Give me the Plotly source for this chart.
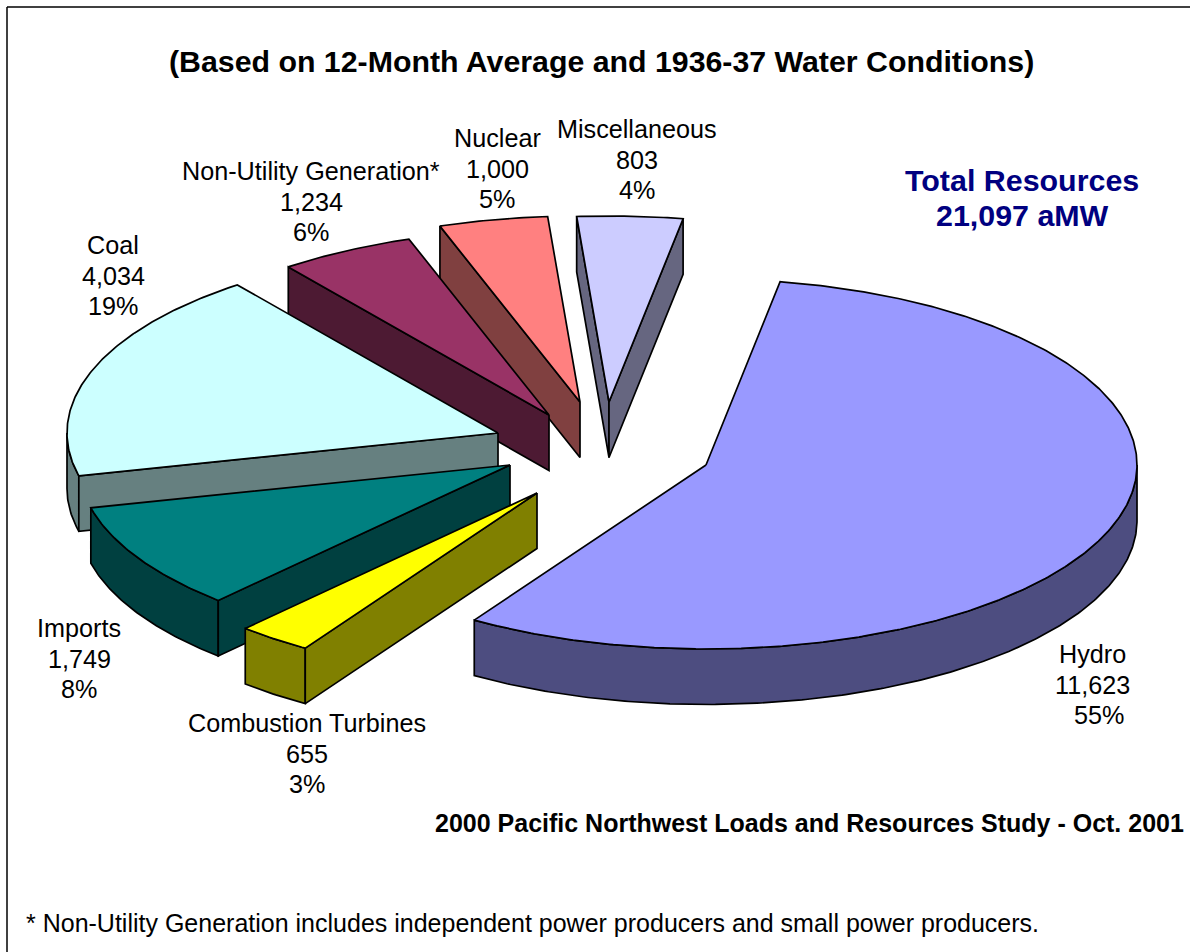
import numpy as np
import plotly.graph_objects as go

# ---- data ----
categories = ["Hydro", "Combustion Turbines", "Imports", "Coal",
              "Non-Utility Generation*", "Nuclear", "Miscellaneous"]
values = [11623, 655, 1749, 4034, 1234, 1000, 803]
total_label = "21,097"

# ---- styling / view of the exploded 3-D pie ----
top_colors = ["#9999FF", "#FFFF00", "#008080", "#CCFFFF", "#993366", "#FF8080", "#CCCCFF"]
side_colors = ["#4D4D80", "#808000", "#004040", "#668080", "#4D1A33", "#804040", "#666680"]
apex_x = [706, 537, 510, 498, 549, 580, 609]
apex_y = [465, 493, 465, 433, 415, 402, 402]
label_x = [1092, 307, 79, 113, 311, 497, 637]
label_y = [654, 723, 628, 245, 171, 138, 129]
draw_order = [6, 5, 4, 3, 2, 1, 0]
start_angle = 9.9
view_warp = [0, 4.3, 3.2, 7.3, 4.7, 1.9, -0.5, 0]  # foreshortening of slice boundaries, degrees
RX, RY_BACK, RY_FRONT, DEPTH = 431, 186, 184, 55.5
LINE = dict(color="black", width=1.7)
FONT = "Liberation Sans, Arial, sans-serif"

shares = np.array(values) / sum(values) * 360
bounds = start_angle + np.concatenate([[0], np.cumsum(shares)]) + np.array(view_warp)


def poly(x, y, color, name):
    return go.Scatter(x=list(x) + [x[0]], y=list(y) + [y[0]], mode="lines", fill="toself",
                      fillcolor=color, line=LINE, name=name, hoverinfo="name", showlegend=False)


def arc(cx, cy, deg):
    t = np.radians(deg)
    c = np.cos(t)
    return cx + RX * np.sin(t), cy - np.where(c > 0, RY_BACK, RY_FRONT) * c


fig = go.Figure()
for i in draw_order:
    cx, cy = apex_x[i], apex_y[i]
    a0, a1 = bounds[i], bounds[i + 1]
    ax, ay = arc(cx, cy, np.linspace(a0, a1, max(int(a1 - a0) * 2, 8)))
    mx, my = arc(cx, cy, np.array([(a0 + a1) / 2]))
    name = categories[i]
    # outer wall: only the part of the rim that faces the viewer
    lo, hi = max(a0, 90), min(a1, 270)
    if hi > lo:
        wx, wy = arc(cx, cy, np.linspace(lo, hi, max(int(hi - lo) * 2, 4)))
        fig.add_trace(poly(np.r_[wx, wx[::-1]], np.r_[wy, wy[::-1] + DEPTH], side_colors[i], name))
    # cut walls: only those whose outside faces down the picture
    for k in (0, -1):
        ex, ey = ax[k] - cx, ay[k] - cy
        if (ex * (my[0] - cy) - ey * (mx[0] - cx)) * ex < 0:
            fig.add_trace(poly([cx, ax[k], ax[k], cx], [cy, ay[k], ay[k] + DEPTH, cy + DEPTH],
                               side_colors[i], name))
    # top face
    fig.add_trace(poly(np.r_[cx, ax], np.r_[cy, ay], top_colors[i], name))

annotations = []


def text(x, y, s, size, bold=False, color="black", anchor="center"):
    annotations.append(dict(x=x, y=y, xref="x", yref="y", text=f"<b>{s}</b>" if bold else s,
                            showarrow=False, xanchor=anchor, yanchor="middle",
                            font=dict(family=FONT, size=size, color=color)))


for i, c in enumerate(categories):
    pct = f"{round(values[i] / sum(values) * 100)}%"
    text(label_x[i], label_y[i], c, 25.2)
    text(label_x[i], label_y[i] + 30.5, f"{values[i]:,}", 25.2)
    text(label_x[i] + (7 if i == 0 else 0), label_y[i] + 61, pct, 25.2)

text(601, 61, "(Based on 12-Month Average and 1936-37 Water Conditions)", 30.3, bold=True)
text(1022, 180, "Total Resources", 30.4, bold=True, color="#000080")
text(1022, 215, f"{total_label} aMW", 30.4, bold=True, color="#000080")
text(809, 823, "2000 Pacific Northwest Loads and Resources Study - Oct. 2001", 25, bold=True)
text(532, 923, "* Non-Utility Generation includes independent power producers and small power producers.", 25)

frame = [dict(type="line", x0=7, x1=1190, y0=7, y1=7, xref="x", yref="y", line=dict(color="black", width=1.5)),
         dict(type="line", x0=7, x1=7, y0=7, y1=952, xref="x", yref="y", line=dict(color="black", width=1.5))]

fig.update_layout(
    width=1190, height=952, margin=dict(l=0, r=0, t=0, b=0),
    paper_bgcolor="white", plot_bgcolor="white", showlegend=False,
    xaxis=dict(range=[0, 1190], visible=False, fixedrange=True),
    yaxis=dict(range=[952, 0], visible=False, fixedrange=True),
    annotations=annotations, shapes=frame,
)
fig.write_html("out.html", config={"displayModeBar": False},
               post_script="document.body.style.margin='0';")
